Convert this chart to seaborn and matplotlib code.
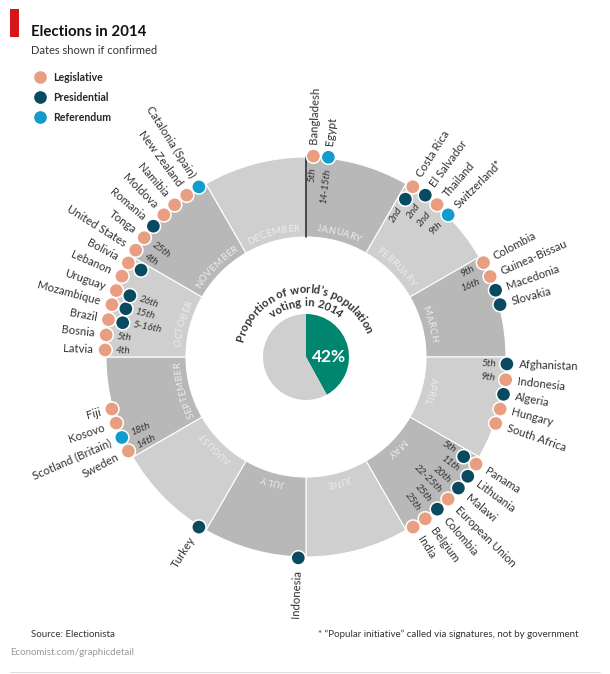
import numpy as np
import pandas as pd
import matplotlib.pyplot as plt
from matplotlib import font_manager
from matplotlib.font_manager import FontProperties
from matplotlib.ft2font import LoadFlags
from matplotlib.patches import Rectangle
from matplotlib.lines import Line2D
import seaborn as sns

FONT = ['Lato', 'DejaVu Sans']
sns.set_theme(style="white")
plt.rcParams['font.family'] = FONT

months = ["JANUARY", "FEBRUARY", "MARCH", "APRIL", "MAY", "JUNE", "JULY", "AUGUST",
          "SEPTEMBER", "OCTOBER", "NOVEMBER", "DECEMBER"]

# one row per dot, angle (degrees clockwise from the top)
names = ["Bangladesh", "Egypt", "Costa Rica", "", "El Salvador", "Thailand", "Switzerland*",
         "Colombia", "Guinea-Bissau", "Macedonia", "Slovakia",
         "Afghanistan", "Indonesia", "Algeria", "Hungary", "South Africa",
         "Panama", "", "Lithuania", "Malawi", "European Union", "Colombia", "Belgium", "India",
         "Indonesia", "Turkey",
         "Sweden", "Scotland (Britain)", "Kosovo", "Fiji",
         "Latvia", "Bosnia", "Brazil", "", "Mozambique", "", "Uruguay", "",
         "Lebanon", "Bolivia", "", "United States", "Tonga", "Romania", "Moldova",
         "Namibia", "New Zealand", "Catalonia (Spain)"]
kinds = ["Legislative", "Referendum", "Legislative", "Presidential", "Presidential", "Legislative", "Referendum",
         "Legislative", "Legislative", "Presidential", "Presidential",
         "Presidential", "Legislative", "Presidential", "Legislative", "Legislative",
         "Legislative", "Presidential", "Presidential", "Presidential", "Legislative", "Presidential", "Legislative", "Legislative",
         "Presidential", "Presidential",
         "Legislative", "Referendum", "Legislative", "Legislative",
         "Legislative", "Legislative", "Legislative", "Presidential", "Legislative", "Presidential", "Legislative", "Presidential",
         "Legislative", "Legislative", "Presidential", "Legislative", "Legislative", "Presidential", "Legislative",
         "Legislative", "Legislative", "Referendum"]
angles = [2.1, 6.4, 32.1, 32.2, 36.4, 40.7, 45.0,
          62.0, 66.4, 70.6, 74.9,
          92.0, 96.5, 100.7, 105.0, 109.3,
          122.2, 122.3, 126.4, 130.7, 135.0, 139.2, 143.6, 147.8,
          182.2, 212.2,
          242.1, 246.4, 250.8, 255.0,
          272.0, 276.3, 280.7, 280.6, 285.1, 285.0, 289.3, 289.2,
          293.7, 297.9, 297.8, 302.1, 306.4, 310.6, 315.0,
          319.2, 323.6, 327.8]
rings = [201, 201, 201, 186.5, 201, 201, 201,
         201, 201, 201, 201,
         201, 201, 201, 201, 201,
         201, 186.5, 201, 201, 201, 201, 201, 201,
         201, 201,
         201, 201, 201, 201,
         201, 201, 201, 186.5, 201, 186.5, 201, 186.5,
         201, 201, 186.5, 201, 201, 201, 201,
         201, 201, 201]
dates = ["5th", "14-15th", "", "2nd", "2nd", "2nd", "9th",
         "9th", "16th", "", "",
         "5th", "9th", "", "", "",
         "", "5th", "11th", "20th", "22-25th", "25th", "25th", "",
         "", "",
         "14th", "18th", "", "",
         "4th", "5th", "", "5-16th", "", "15th", "", "26th",
         "", "", "", "4th", "25th", "", "",
         "", "", ""]

share_voting = 42

R_IN, R_OUT = 120, 200
LEG = '#E99E82'
PRES = '#0A4A60'
REF = '#129CCB'
TXT = '#333333'

fig = plt.figure(figsize=(6.1, 6.74), dpi=100, facecolor='white')
# axes are 460px wide around the centre of the ring, so 1 radial unit = 1 pixel
ax = fig.add_axes([(306 - 230) / 610, (674 - 357 - 230) / 674, 460 / 610, 460 / 674], projection='polar')
ax.set_theta_zero_location('N')
ax.set_theta_direction(-1)
ax.set_rlim(0, 230)


def curved(s, mid_deg, r, size, color, weight='normal', track=0.0):
    # place letters one at a time along an arc, clockwise, tops pointing outwards
    fp = FontProperties(family=FONT, weight=weight, size=size)
    font = font_manager.get_font(font_manager.findfont(fp))
    font.set_size(size, 100)
    adv = [font.load_char(ord(ch), flags=LoadFlags.NO_HINTING).linearHoriAdvance / 65536 + track for ch in s]
    x = -sum(adv) / 2
    for ch, w in zip(s, adv):
        a = mid_deg + np.degrees((x + w / 2) / r)
        ax.text(np.radians(a), r, ch, rotation=-a, rotation_mode='anchor', ha='center', va='baseline',
                fontproperties=fp, color=color)
        x += w


# month ring
mid = np.arange(12) * 30 + 15
ring_cols = ['#B8B8B8' if i % 2 == 0 else '#CFCFCF' for i in range(12)]
ax.bar(np.radians(mid), R_OUT - R_IN, width=np.radians(30), bottom=R_IN, color=ring_cols,
       edgecolor='white', linewidth=0.8)
for m, a in zip(months, mid):
    curved(m, a, 126, 7, '#ECECEC', track=0.1)
ax.plot([0, 0], [R_IN, R_OUT], color='#1A1A1A', lw=1.1, zorder=3)

# centre pie
pie = np.radians(360 * share_voting / 100)
ax.bar(pie / 2, 43, width=pie, color='#00866F', linewidth=0)
ax.bar(pie + (2 * np.pi - pie) / 2, 43, width=2 * np.pi - pie, color='#CFCFCF', linewidth=0)
ax.text(np.radians(90), 23, f"{share_voting}%", color='white', fontsize=12.5, fontweight='bold',
        ha='center', va='center')
curved("Proportion of world\u2019s population", -4, 64, 8.1, TXT, weight='bold')
curved("voting in 2014", 0, 51, 8.1, TXT, weight='bold')

# election dots
df = pd.DataFrame({'name': names, 'kind': kinds, 'angle': angles, 'ring': rings, 'date': dates})
df['theta'] = np.radians(df['angle'])
sns.scatterplot(data=df, x='theta', y='ring', hue='kind', hue_order=['Legislative', 'Presidential', 'Referendum'],
                palette=[LEG, PRES, REF], s=105, edgecolor='white', linewidth=1.1, zorder=5, clip_on=False, ax=ax)

for _, row in df.iterrows():
    left = row['angle'] > 180
    rot = (270 if left else 90) - row['angle']
    if row['name']:
        ax.text(row['theta'], 213, row['name'], rotation=rot, rotation_mode='anchor',
                ha='right' if left else 'left', va='center', fontsize=8.2, color=TXT)
    if row['date']:
        r_end = 190 if row['ring'] > 190 else 176
        ax.text(row['theta'], r_end, row['date'], rotation=rot, rotation_mode='anchor',
                ha='left' if left else 'right', va='center', fontsize=7.2, style='italic', color=TXT)

sns.move_legend(ax, 'upper left', bbox_to_anchor=(29 / 610, 1 - 72 / 674), bbox_transform=fig.transFigure,
                frameon=False, title=None, labelspacing=0.84, handletextpad=0.28, borderpad=0, borderaxespad=0,
                prop={'family': FONT, 'weight': 'bold', 'size': 7.6})
ax.set_xlabel('')
ax.set_ylabel('')
ax.axis('off')

# header and footer
fig.add_artist(Rectangle((10 / 610, 1 - 37 / 674), 9 / 610, 28 / 674, transform=fig.transFigure,
                         color='#D7161B', lw=0))
fig.text(31 / 610, 1 - 36 / 674, "Elections in 2014", fontsize=10.8, fontweight='bold', color='#111111')
fig.text(31 / 610, 1 - 54 / 674, "Dates shown if confirmed", fontsize=8.0, color=TXT)
fig.text(31 / 610, 1 - 637 / 674, "Source: Electionista", fontsize=7.0, color=TXT)
fig.text(318 / 610, 1 - 637 / 674, "* \u201cPopular initiative\u201d called via signatures, not by government",
         fontsize=7.0, color=TXT)
fig.text(10 / 610, 1 - 655 / 674, "Economist.com/graphicdetail", fontsize=7.05, color='#9A9A9A')
fig.add_artist(Line2D([10 / 610, 600 / 610], [1 - 671.5 / 674] * 2, transform=fig.transFigure,
                      color='#DDDDDD', lw=0.7))

fig.savefig('out.png', dpi=100, facecolor='white')
